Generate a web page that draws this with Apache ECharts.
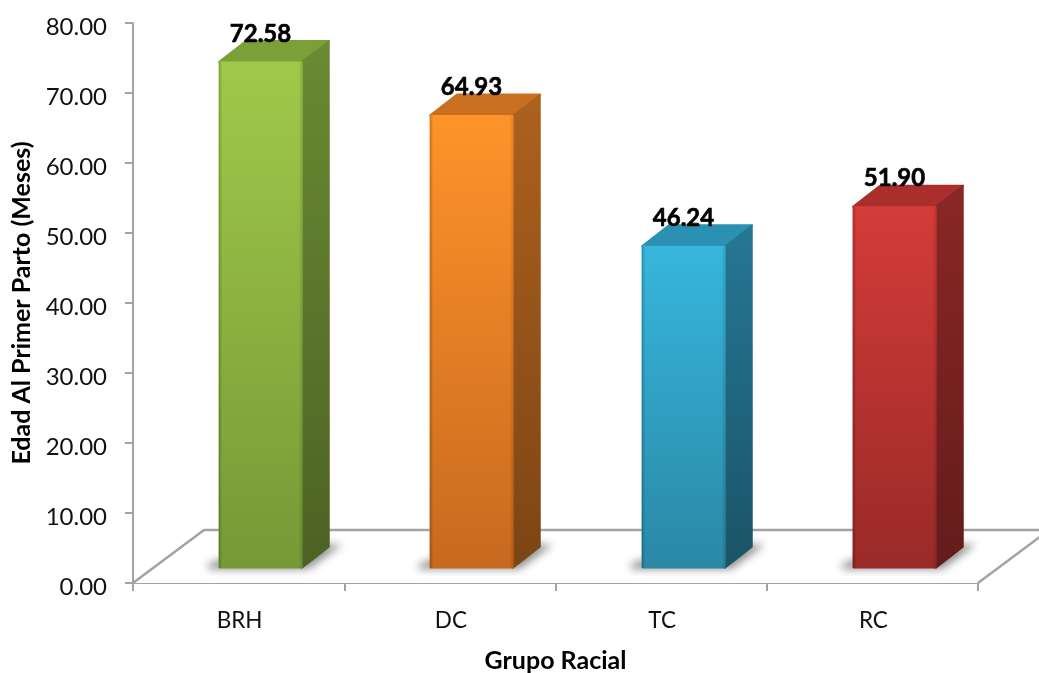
<!DOCTYPE html>
<html><head><meta charset="utf-8">
<style>html,body{margin:0;padding:0;background:#fff}#c{width:1039px;height:673px}</style>
<script src="https://cdn.jsdelivr.net/npm/echarts@6/dist/echarts.min.js"></script>
</head><body><div id="c"></div>
<script>
const categories = ['BRH','DC','TC','RC'];
const edad = [72.58, 64.93, 46.24, 51.90];
const valueLabels = ['72.58','64.93','46.24','51.90'];
const xTitle = 'Grupo Racial';
const yTitle = 'Edad Al Primer Parto (Meses)';
const palette = [
  {front:['#A0C94A','#779836'], side:['#6B8A33','#4C6224'], top:'#7BA038'},
  {front:['#FF932A','#C7691F'], side:['#AD611E','#7C4515'], top:'#C96F20'},
  {front:['#37B6DD','#2A88A6'], side:['#267796','#1A5467'], top:'#2B91B3'},
  {front:['#D43C39','#992A28'], side:['#8A2725','#631C1A'], top:'#A92E2C'}
];
const AXIS='#A3A3A3', FONT='Lato, "Open Sans", sans-serif';
const grad=(a,b)=>({type:'linear',x:0,y:0,x2:0,y2:1,colorStops:[{offset:0,color:a},{offset:1,color:b}]});
const chart=echarts.init(document.getElementById('c'),null,{renderer:'canvas'});
chart.setOption({
  animation:false,
  backgroundColor:'#fff',
  grid:{left:133,right:61,top:23,bottom:90,outerBoundsMode:'none'},
  xAxis:{type:'category',data:categories,
    name:xTitle,nameLocation:'middle',nameGap:65,
    nameTextStyle:{fontFamily:FONT,fontSize:25,fontWeight:'bold',color:'#000'},
    axisLine:{lineStyle:{color:AXIS,width:2}},
    axisTick:{show:true,length:8,lineStyle:{color:AXIS,width:2}},
    axisLabel:{fontFamily:FONT,fontSize:22.5,color:'#111',margin:26,padding:[0,0,0,2]}},
  yAxis:{type:'value',min:0,max:80,interval:10,
    name:yTitle,nameLocation:'middle',nameGap:93,
    nameTextStyle:{fontFamily:FONT,fontSize:25,fontWeight:'bold',color:'#000'},
    splitLine:{show:false},
    axisLine:{show:true,lineStyle:{color:AXIS,width:2}},
    axisTick:{show:true,length:8,lineStyle:{color:AXIS,width:2}},
    axisLabel:{margin:26,formatter:v=>'{a|'+v.toFixed(2)+'}',
      rich:{a:{fontFamily:FONT,fontSize:24,color:'#111',padding:[8,0,0,0]}}}},
  series:[
   {type:'custom',coordinateSystem:'cartesian2d',silent:true,clip:false,z:1,
    data:[[0,0]],encode:{x:0,y:1},
    renderItem(p,api){
      const c=p.coordSys, l=c.x, r=c.x+c.width, b=c.y+c.height, dx=71, dy=53;
      return {type:'group',children:[
        {type:'polyline',shape:{points:[[l,b],[l+dx,b-dy],[r+dx,b-dy],[r,b]]},
         style:{fill:'#fff',stroke:AXIS,lineWidth:2.5}}
      ]};
    }},
   {type:'custom',coordinateSystem:'cartesian2d',silent:true,clip:false,z:2,
    data:edad.map((v,i)=>[i,v]),encode:{x:0,y:1},
    renderItem(p,api){
      const i=api.value(0), v=api.value(1), pal=palette[i];
      const base=api.coord([i,0]), top=api.coord([i,v]);
      const w=83, dx=27, dy=21, far=1500;
      const x0=Math.round(base[0]+22-w/2), x1=x0+w, y0=base[1]-15, y1=top[1]-15+2;
      const sh=[[x0-12,y0-3],[x0,y0-8],[x1+dx+6,y0-dy-3],[x1+dx+12,y0-dy-2],[x1+6,y0+1],[x0-10,y0+1]];
      return {type:'group',children:[
        {type:'polygon',shape:{points:sh.map(q=>[q[0]-far,q[1]])},
         style:{fill:'#000',shadowBlur:9,shadowOffsetX:far,shadowColor:'rgba(70,70,70,0.62)'}},
        {type:'polygon',shape:{points:[[x0,y1],[x1,y1],[x1+dx,y1-dy],[x0+dx,y1-dy]]},
         style:{fill:pal.top,stroke:pal.top,lineWidth:2,lineJoin:'round'}},
        {type:'polygon',shape:{points:[[x1,y1],[x1+dx,y1-dy],[x1+dx,y0-dy],[x1,y0]]},
         style:{fill:grad(pal.side[0],pal.side[1]),stroke:grad(pal.side[0],pal.side[1]),lineWidth:1.5,lineJoin:'round'}},
        {type:'rect',shape:{x:x0,y:y1,width:w,height:y0-y1},
         style:{fill:grad(pal.front[0],pal.front[1]),stroke:grad(pal.front[0],pal.front[1]),lineWidth:1,lineJoin:'round'}},
        {type:'rect',shape:{x:x0,y:y1,width:w,height:y0-y1},
         style:{fill:{type:'linear',x:0,y:0,x2:1,y2:0,colorStops:[
           {offset:0,color:'rgba(0,0,0,0.22)'},{offset:0.04,color:'rgba(0,0,0,0)'},
           {offset:0.96,color:'rgba(0,0,0,0)'},{offset:1,color:'rgba(0,0,0,0.12)'}]}}},
        {type:'text',z2:10,style:{x:(x0+x1)/2,y:y1-28,text:valueLabels[i],align:'center',verticalAlign:'middle',
         fontFamily:FONT,fontSize:24,fontWeight:'bold',fill:'#000',stroke:'#000',lineWidth:0.6}}
      ]};
    }}
  ]
});
</script></body></html>
